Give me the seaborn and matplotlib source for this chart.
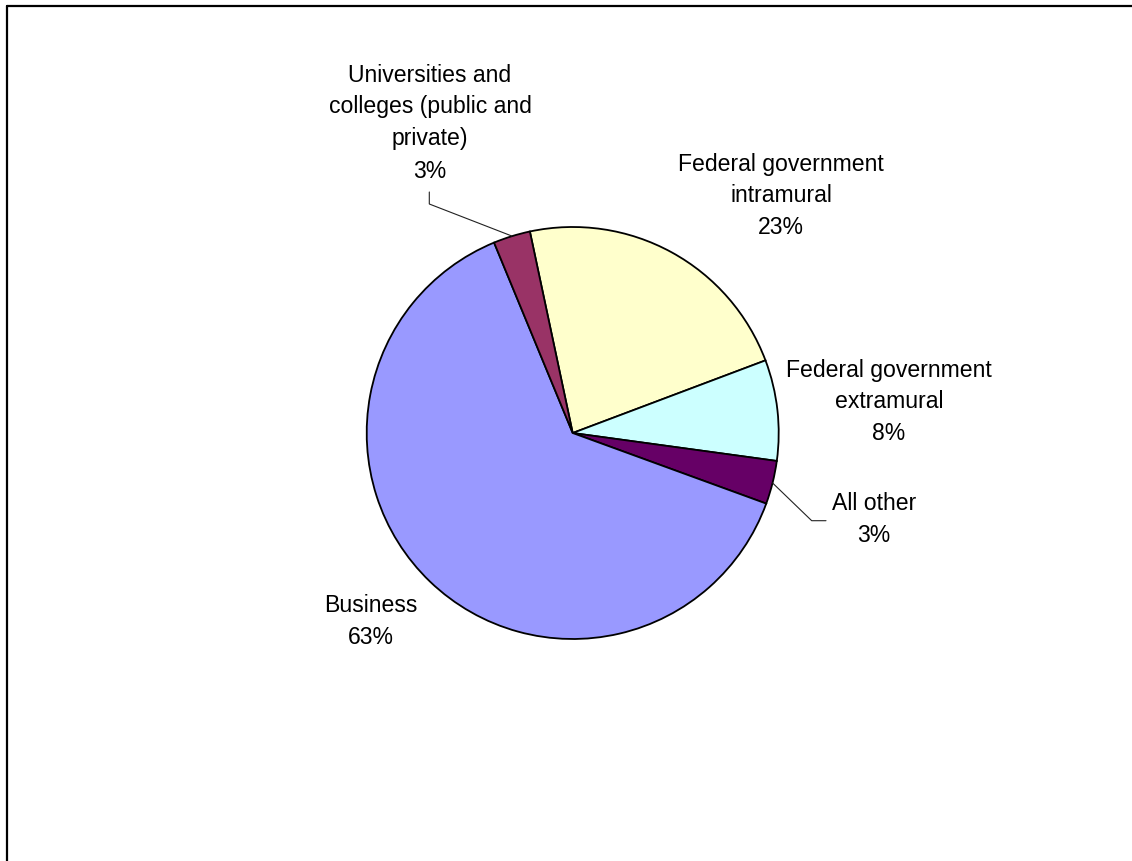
import matplotlib
matplotlib.use("Agg")
import matplotlib.pyplot as plt
from matplotlib.lines import Line2D
import seaborn as sns

# Données (ordre horaire à partir de "Federal government intramural")
categories = [
    "Federal government\nintramural",
    "Federal government\nextramural",
    "All other",
    "Business",
    "Universities and\ncolleges (public and\nprivate)",
]
parts = [22.6, 7.9, 3.4, 63.2, 2.9]
couleurs = ["#FFFFCC", "#CCFFFF", "#660066", "#9999FF", "#993366"]

sns.set_theme(style="white")
plt.rcParams["font.family"] = ["Liberation Sans", "DejaVu Sans"]

W, H = 1132, 861
fig = plt.figure(figsize=(W / 100, H / 100), dpi=100)
ax = fig.add_axes([0, 0, 1, 1])

centre = (572.7, H - 433)
rayon = 206

wedges, _ = ax.pie(
    parts,
    colors=couleurs,
    startangle=102,
    counterclock=False,
    center=centre,
    radius=rayon,
    frame=True,
    wedgeprops={"edgecolor": "black", "linewidth": 1.3},
)
ax.set_xlim(0, W)
ax.set_ylim(0, H)
ax.set_aspect("equal")
ax.axis("off")

# Positions des étiquettes (pixels, origine en haut à gauche)
positions = [
    (781, 196),
    (889, 402),
    (874, 520),
    (371, 621),
    (430, 123),
]

for cat, val, (x, y) in zip(categories, parts, positions):
    ax.text(
        x,
        H - y,
        f"{cat}\n{round(val)}%",
        ha="center",
        va="center",
        fontsize=16.6,
        linespacing=1.5,
        color="black",
    )

# Lignes de rappel
ax.plot([511.8, 429.3, 429.3], [H - 236, H - 204, H - 192],
        color="#222222", linewidth=0.8)
ax.plot([772.6, 811.7, 826], [H - 483, H - 520.7, H - 520.7],
        color="#222222", linewidth=0.8)

# Cadre (haut et gauche visibles)
fig.add_artist(Line2D([7 / W, 1], [1 - 6 / H, 1 - 6 / H],
                      transform=fig.transFigure, color="black", linewidth=1.6))
fig.add_artist(Line2D([7 / W, 7 / W], [0, 1 - 6 / H],
                      transform=fig.transFigure, color="black", linewidth=1.6))

fig.savefig("out.png", dpi=100, facecolor="white")
